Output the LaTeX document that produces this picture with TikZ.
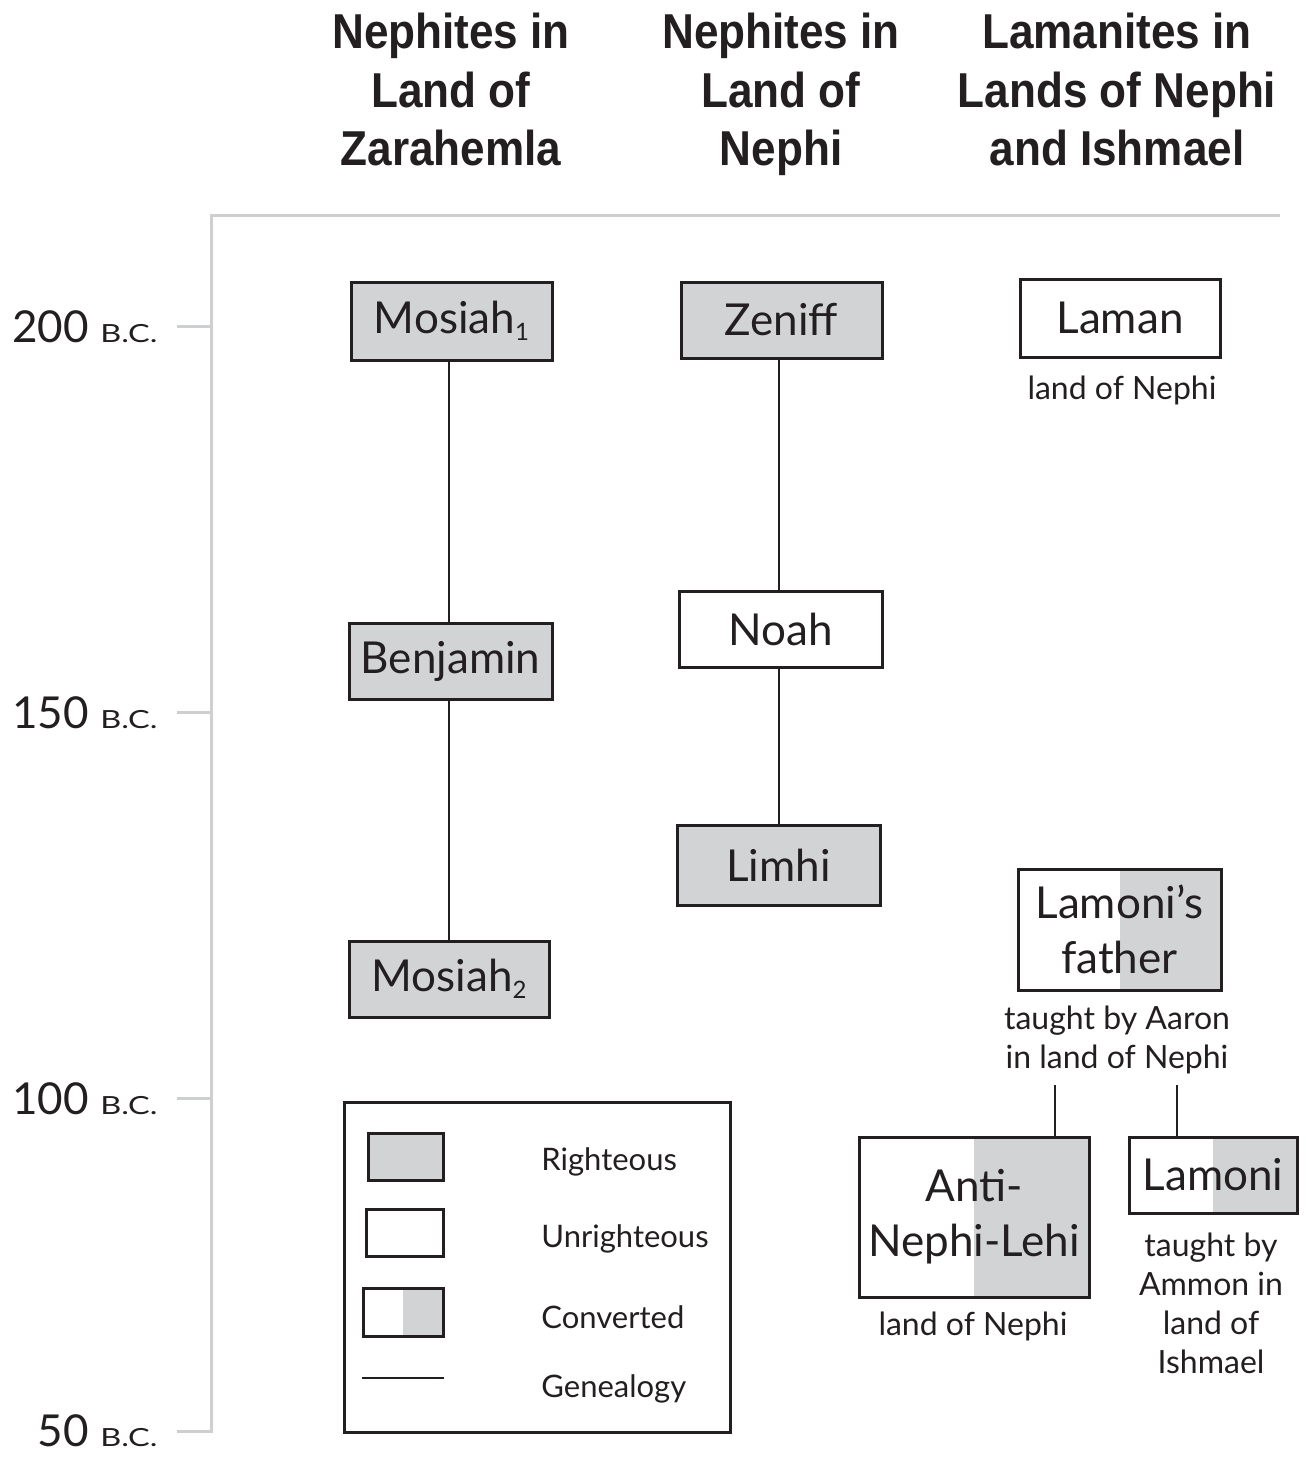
\documentclass[tikz,border=0pt]{standalone}
\usepackage{fontspec}
\setmainfont{Lato}
\newfontfamily\headfont[FakeStretch=0.9]{Liberation Sans}
\newfontfamily\scfont[FakeStretch=1.3]{Lato}
\definecolor{rfill}{RGB}{209,211,212}
\definecolor{axisgray}{RGB}{205,207,208}
\definecolor{ink}{RGB}{35,31,32}
\begin{document}
\begin{tikzpicture}[x=0.5pt,y=-0.5pt, every node/.style={text=ink},
  box/.style={draw=ink, line width=1.5pt, inner sep=0pt, align=center,
    font=\fontsize{22}{27.5}\selectfont},
  rbox/.style={box, fill=rfill},
  ubox/.style={box, fill=white},
  cbox/.style={box, path picture={\fill[rfill] (path picture bounding box.north) rectangle (path picture bounding box.south east);}},
  conn/.style={draw=ink, line width=1pt},
  axisline/.style={draw=axisgray, line width=1.5pt},
  head/.style={font=\headfont\bfseries\fontsize{24.5}{29}\selectfont, anchor=base, inner sep=0pt},
  sub/.style={font=\fontsize{16}{19.5}\selectfont, align=center, inner sep=0pt},
  leg/.style={font=\fontsize{15.5}{18}\selectfont, anchor=base west, inner sep=0pt},
  tick/.style={font=\fontsize{22}{24}\selectfont, anchor=base east, inner sep=0pt},
  bc/.style={}
]
\useasboundingbox (0,0) rectangle (1306,1458);
\newcommand{\bcx}{{\scfont\fontsize{12.5}{12}\selectfont B.C.}}

% headings
\node[head] (h1a) at (451,48) {Nephites in};
\node[head] (h1b) at (451,107) {Land of};
\node[head] (h1c) at (451,165) {Zarahemla};
\node[head] (h2a) at (781,48) {Nephites in};
\node[head] (h2b) at (781,107) {Land of};
\node[head] (h2c) at (781,165) {Nephi};
\node[head] (h3a) at (1117,48) {Lamanites in};
\node[head] (h3b) at (1117,107) {Lands of Nephi};
\node[head] (h3c) at (1117,165) {and Ishmael};

% axis
\draw[axisline] (1280,215) -- (211,215) -- (211,1431) -- (177,1431);
\draw[axisline] (177,326) -- (211,326);
\draw[axisline] (177,712) -- (211,712);
\draw[axisline] (177,1098) -- (211,1098);
\node[tick] (t200) at (158,342) {200 \bcx};
\node[tick] (t150) at (158,728) {150 \bcx};
\node[tick] (t100) at (158,1114) {100 \bcx};
\node[tick] (t50) at (158,1446) {50 \bcx};

% column 1
\node[rbox, minimum width=100.5pt, minimum height=39pt] (mosiah1) at (451.5,321) {Mosiah\raisebox{-0.3ex}{\fontsize{12}{12}\selectfont 1}};
\node[rbox, minimum width=101.5pt, minimum height=38pt] (benjamin) at (450.5,661) {Benjamin};
\node[rbox, minimum width=100pt, minimum height=38pt] (mosiah2) at (449,979) {Mosiah\raisebox{-0.3ex}{\fontsize{12}{12}\selectfont 2}};

% column 2
\node[rbox, minimum width=100.5pt, minimum height=38pt] (zeniff) at (781.5,320) {Zeniff};
\node[ubox, minimum width=101.5pt, minimum height=38pt] (noah) at (780.5,629) {Noah};
\node[rbox, minimum width=101.5pt, minimum height=40pt] (limhi) at (778.5,865) {Limhi};

% column 3
\node[ubox, minimum width=100pt, minimum height=39pt] (laman) at (1120,318) {Laman};
\node[sub] (lamansub) at (1122,390) {land of Nephi};
\node[cbox, minimum width=101.5pt, minimum height=60.5pt] (father) at (1119.5,929.5) {Lamoni’s\\father};
\node[sub] (fathersub) at (1117,1040) {taught by Aaron\\in land of Nephi};
\node[cbox, minimum width=115pt, minimum height=80pt] (anti) at (974,1217) {Anti-\\Nephi-Lehi};
\node[sub] (antisub) at (973,1326) {land of Nephi};
\node[cbox, minimum width=84pt, minimum height=38pt] (lamoni) at (1213,1175) {Lamoni};
\node[sub] (lamonisub) at (1211,1303) {taught by\\Ammon in\\land of\\Ishmael};

% genealogy
\draw[conn] (mosiah1.south -| 449,0) -- (benjamin.north -| 449,0);
\draw[conn] (benjamin.south -| 449,0) -- (mosiah2.north -| 449,0);
\draw[conn] (zeniff.south -| 779,0) -- (noah.north -| 779,0);
\draw[conn] (noah.south -| 779,0) -- (limhi.north -| 779,0);
\coordinate (fa) at (1055,1085);
\coordinate (fb) at (1177,1085);
\draw[conn] (fa) -- (anti.north -| fa);
\draw[conn] (fb) -- (lamoni.north -| fb);

% legend
\node[draw=ink, line width=1.5pt, minimum width=193pt, minimum height=165pt, inner sep=0pt] (legend) at (537,1267) {};
\node[rbox, minimum width=37.5pt, minimum height=23.5pt] (lr) at (405.5,1156.5) {};
\node[ubox, minimum width=38.5pt, minimum height=23.5pt] (lu) at (404.5,1232.5) {};
\node[cbox, minimum width=40pt, minimum height=24pt] (lc) at (403,1312) {};
\coordinate (lg1) at (362,1378);
\coordinate (lg2) at (444,1378);
\draw[conn] (lg1) -- (lg2);
\node[leg] (lrt) at (541,1170) {Righteous};
\node[leg] (lut) at (541,1247) {Unrighteous};
\node[leg] (lct) at (541,1328) {Converted};
\node[leg] (lgt) at (541,1397) {Genealogy};
\end{tikzpicture}
\end{document}
